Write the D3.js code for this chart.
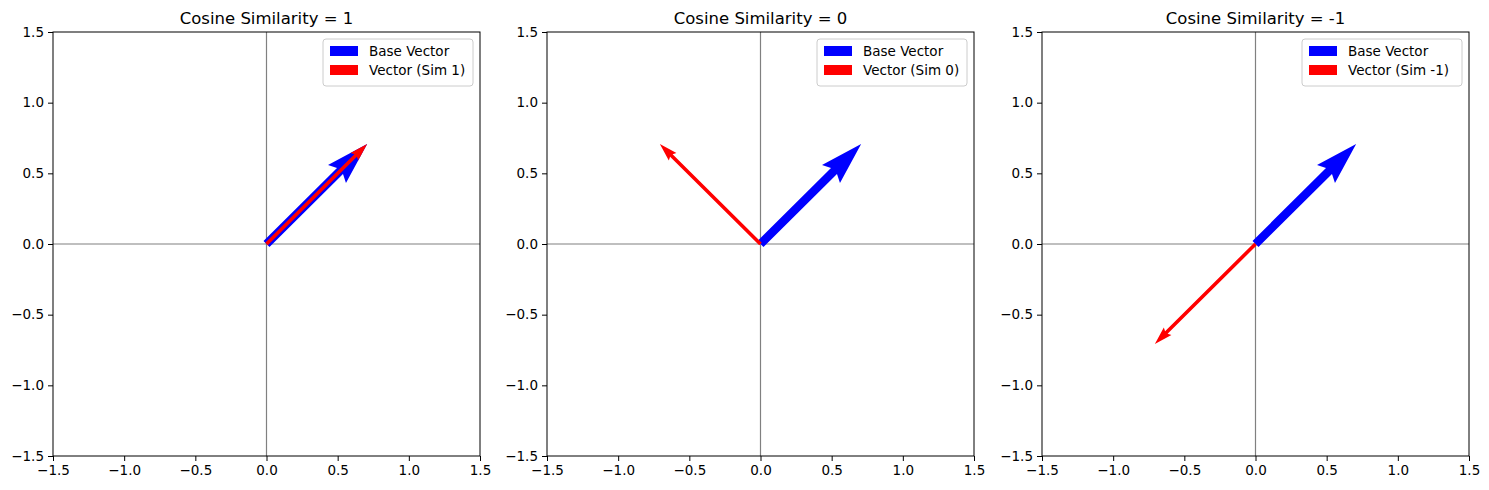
<!DOCTYPE html><html><head><meta charset="utf-8"><script src="https://cdn.jsdelivr.net/npm/d3@7"></script>
<style>body{margin:0;background:#fff}</style></head><body><svg id="c" width="1489" height="490"></svg><script>
const titles=["Cosine Similarity = 1","Cosine Similarity = 0","Cosine Similarity = -1"];
const baseVector=[0.7071,0.7071];
const otherVectors=[[0.7071,0.7071],[-0.7071,0.7071],[-0.7071,-0.7071]];
const otherLabels=["Vector (Sim 1)","Vector (Sim 0)","Vector (Sim -1)"];
const ticks=[-1.5,-1.0,-0.5,0.0,0.5,1.0,1.5];
const lefts=[53,547,1042];
const svg=d3.select("#c");
const F="DejaVu Sans, sans-serif";
function arrow(g,x,y,u,v,w,color){
  const x0=x(0),y0=y(0),x1=x(u),y1=y(v);
  const dx=x1-x0,dy=y1-y0,L=Math.hypot(dx,dy),ux=dx/L,uy=dy/L,nx=-uy,ny=ux;
  const hl=5*w,hal=4.5*w,hw=1.5*w,sw=w/2;
  const p=(a,b)=>[x0+ux*a+nx*b,y0+uy*a+ny*b];
  const pts=[p(0,-sw),p(L-hal,-sw),p(L-hl,-hw),p(L,0),p(L-hl,hw),p(L-hal,sw),p(0,sw)];
  g.append("polygon").attr("points",pts.map(q=>q.join(",")).join(" ")).attr("fill",color);
}
const fmt=d=>d3.format(".1f")(d).replace("-","−");
titles.forEach((t,i)=>{
  const x=d3.scaleLinear().domain([-1.5,1.5]).range([lefts[i],lefts[i]+427]);
  const y=d3.scaleLinear().domain([-1.5,1.5]).range([456,32]);
  const g=svg.append("g");
  g.append("line").attr("x1",x(-1.5)).attr("x2",x(1.5)).attr("y1",y(0)).attr("y2",y(0)).attr("stroke","#808080").attr("stroke-width",1.2);
  g.append("line").attr("x1",x(0)).attr("x2",x(0)).attr("y1",y(-1.5)).attr("y2",y(1.5)).attr("stroke","#808080").attr("stroke-width",1.2);
  arrow(g,x,y,baseVector[0],baseVector[1],8.5,"#0000ff");
  arrow(g,x,y,otherVectors[i][0],otherVectors[i][1],3.6,"#ff0000");
  g.append("rect").attr("x",x(-1.5)).attr("y",32).attr("width",427).attr("height",424).attr("fill","none").attr("stroke","#000").attr("stroke-width",1);
  g.append("g").attr("transform","translate(0,456)").call(d3.axisBottom(x).tickValues(ticks).tickSizeOuter(0).tickSize(5).tickPadding(4))
   .call(a=>{a.select(".domain").remove();a.selectAll("text").attr("font-family",F).attr("font-size",13.5).attr("fill","#000").text(fmt);});
  g.append("g").attr("transform",`translate(${lefts[i]},0)`).call(d3.axisLeft(y).tickValues(ticks).tickSizeOuter(0).tickSize(5).tickPadding(4))
   .call(a=>{a.select(".domain").remove();a.selectAll("text").attr("font-family",F).attr("font-size",13.5).attr("fill","#000").text(fmt);});
  g.append("text").attr("x",x(0)).attr("y",24).attr("text-anchor","middle").attr("font-family",F).attr("font-size",16.5).text(t);
  const lw=otherLabels[i].length>14?160:150;
  const lx=x(1.5)-7-lw;
  g.append("rect").attr("x",lx).attr("y",39).attr("width",lw).attr("height",47).attr("rx",3).attr("fill","#fff").attr("fill-opacity",0.8).attr("stroke","#ccc");
  [["Base Vector","#0000ff"],[otherLabels[i],"#ff0000"]].forEach((e,k)=>{
    g.append("rect").attr("x",lx+7).attr("y",46+k*19).attr("width",28).attr("height",10).attr("fill",e[1]);
    g.append("text").attr("x",lx+31+0+0).attr("dx",0).attr("y",56+k*19).attr("font-family",F).attr("font-size",13.5).attr("x",lx+46).text(e[0]);
  });
});
</script></body></html>
